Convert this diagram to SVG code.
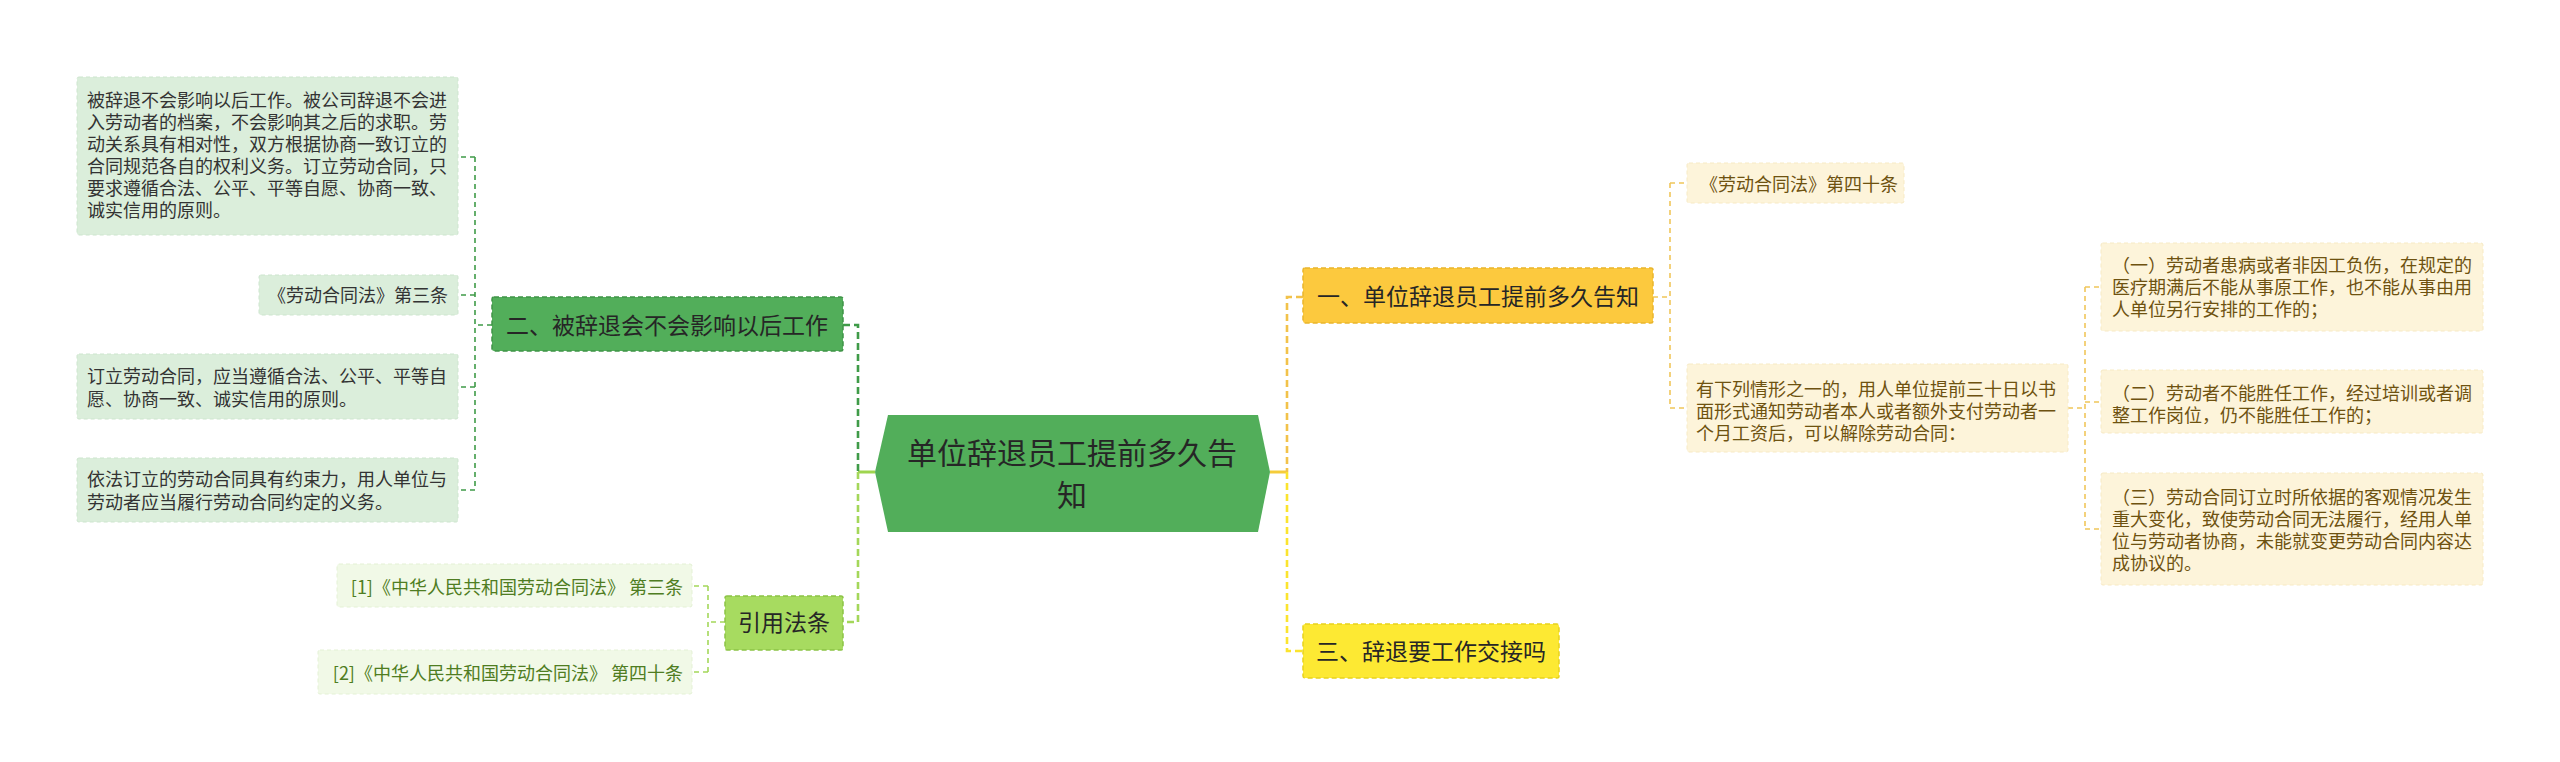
<svg xmlns="http://www.w3.org/2000/svg" width="2560" height="762" viewBox="0 0 2560 762">
<style>
text{font-family:"Noto Sans CJK SC","Noto Sans",sans-serif;}
.t18{font-size:18px;}
.t23{font-size:23px;fill:#262626;}
.lg{fill:#333333;}
.cg{fill:#4f7d22;}
.yb{fill:#6e5210;}
.leafG{fill:#dbeedb;stroke:#cde5ce;stroke-width:1;stroke-dasharray:4,3;}
.leafC{fill:#f1f9e7;stroke:#e4f1d5;stroke-width:1;stroke-dasharray:4,3;}
.leafY{fill:#fdf4da;stroke:#f7eac4;stroke-width:1;stroke-dasharray:4,3;}
.c{fill:none;stroke-width:1.6;stroke-dasharray:5,4;}
.cm{fill:none;stroke-width:2.6;stroke-dasharray:7,4;}
</style>
<rect width="2560" height="762" fill="#ffffff"/>
<g id="connectors">
  <line x1="858" y1="472" x2="875" y2="472" stroke="#9fd54f" stroke-width="3"/>
  <path class="cm" stroke="#3f9b48" d="M843,325 H858 V472"/>
  <path class="cm" stroke="#a4d75a" d="M858,472 V622 H843"/>
  <path class="c" stroke="#3f9b48" d="M492,325 H475 M475,157 V490 M475,157 H458 M475,295 H458 M475,387 H458 M475,490 H458"/>
  <path class="c" stroke="#a4d75a" d="M725,622 H708 M708,586 V672 M708,586 H692 M708,672 H692"/>
  <line x1="1270" y1="472" x2="1287" y2="472" stroke="#f5cc3a" stroke-width="3"/>
  <path class="cm" stroke="#f2c24a" d="M1303,297 H1287 V472"/>
  <path class="cm" stroke="#fbe42e" d="M1287,472 V651 H1303"/>
  <path class="c" stroke="#f0c65a" d="M1653,297 H1670 M1670,183 V408 M1670,183 H1687 M1670,408 H1687"/>
  <path class="c" stroke="#f0c65a" d="M2068,408 H2085 M2085,287 V529 M2085,287 H2101 M2085,402 H2101 M2085,529 H2101"/>
</g>
<g id="center">
  <polygon points="888,415 1258,415 1270,472 1258,532 888,532 875,472" fill="#52ae5a"/>
  <text x="1072" y="464" font-size="30" fill="#262626" text-anchor="middle">单位辞退员工提前多久告</text>
  <text x="1072" y="506" font-size="30" fill="#262626" text-anchor="middle">知</text>
</g>
<g id="node-er">
  <rect x="492" y="297" width="351" height="54" rx="2" fill="#52ae5a" stroke="#3f9447" stroke-width="1.5" stroke-dasharray="5,3"/>
  <text class="t23" x="667" y="334" text-anchor="middle">二、被辞退会不会影响以后工作</text>
</g>
<g id="leaf-er-1">
  <rect class="leafG" x="77" y="77" width="381" height="158" rx="2"/>
  <text class="t18 lg">
    <tspan x="87" y="107">被辞退不会影响以后工作。被公司辞退不会进</tspan>
    <tspan x="87" y="129">入劳动者的档案，不会影响其之后的求职。劳</tspan>
    <tspan x="87" y="151">动关系具有相对性，双方根据协商一致订立的</tspan>
    <tspan x="87" y="173">合同规范各自的权利义务。订立劳动合同，只</tspan>
    <tspan x="87" y="195">要求遵循合法、公平、平等自愿、协商一致、</tspan>
    <tspan x="87" y="217">诚实信用的原则。</tspan>
  </text>
</g>
<g id="leaf-er-2">
  <rect class="leafG" x="259" y="275" width="199" height="40" rx="2"/>
  <text class="t18 lg" x="448" y="302" text-anchor="end">《劳动合同法》第三条</text>
</g>
<g id="leaf-er-3">
  <rect class="leafG" x="77" y="354" width="381" height="65" rx="2"/>
  <text class="t18 lg">
    <tspan x="87" y="383">订立劳动合同，应当遵循合法、公平、平等自</tspan>
    <tspan x="87" y="406">愿、协商一致、诚实信用的原则。</tspan>
  </text>
</g>
<g id="leaf-er-4">
  <rect class="leafG" x="77" y="458" width="381" height="64" rx="2"/>
  <text class="t18 lg">
    <tspan x="87" y="486">依法订立的劳动合同具有约束力，用人单位与</tspan>
    <tspan x="87" y="509">劳动者应当履行劳动合同约定的义务。</tspan>
  </text>
</g>
<g id="node-cite">
  <rect x="725" y="596" width="118" height="54" rx="2" fill="#a7db60" stroke="#8cc445" stroke-width="1.5" stroke-dasharray="5,3"/>
  <text class="t23" x="784" y="631" text-anchor="middle">引用法条</text>
</g>
<g id="leaf-cite-1">
  <rect class="leafC" x="337" y="564" width="355" height="43" rx="2"/>
  <text class="t18 cg" x="683" y="594" font-size="17.5" text-anchor="end">[1]《中华人民共和国劳动合同法》 第三条</text>
</g>
<g id="leaf-cite-2">
  <rect class="leafC" x="318" y="650" width="374" height="44" rx="2"/>
  <text class="t18 cg" x="683" y="680" font-size="17.5" text-anchor="end">[2]《中华人民共和国劳动合同法》 第四十条</text>
</g>
<g id="node-yi">
  <rect x="1303" y="268" width="350" height="55" rx="2" fill="#fcc93e" stroke="#e9b52c" stroke-width="1.5" stroke-dasharray="5,3"/>
  <text class="t23" x="1478" y="305" text-anchor="middle">一、单位辞退员工提前多久告知</text>
</g>
<g id="leaf-yi-1">
  <rect class="leafY" x="1687" y="163" width="217" height="40" rx="2"/>
  <text class="t18 yb" x="1700" y="191">《劳动合同法》第四十条</text>
</g>
<g id="leaf-yi-2">
  <rect class="leafY" x="1687" y="364" width="381" height="88" rx="2"/>
  <text class="t18 yb">
    <tspan x="1696" y="396">有下列情形之一的，用人单位提前三十日以书</tspan>
    <tspan x="1696" y="418">面形式通知劳动者本人或者额外支付劳动者一</tspan>
    <tspan x="1696" y="440">个月工资后，可以解除劳动合同：</tspan>
  </text>
</g>
<g id="leaf-case-1">
  <rect class="leafY" x="2101" y="243" width="382" height="88" rx="2"/>
  <text class="t18 yb">
    <tspan x="2112" y="272">（一）劳动者患病或者非因工负伤，在规定的</tspan>
    <tspan x="2112" y="294">医疗期满后不能从事原工作，也不能从事由用</tspan>
    <tspan x="2112" y="316">人单位另行安排的工作的；</tspan>
  </text>
</g>
<g id="leaf-case-2">
  <rect class="leafY" x="2101" y="370" width="382" height="63" rx="2"/>
  <text class="t18 yb">
    <tspan x="2112" y="400">（二）劳动者不能胜任工作，经过培训或者调</tspan>
    <tspan x="2112" y="422">整工作岗位，仍不能胜任工作的；</tspan>
  </text>
</g>
<g id="leaf-case-3">
  <rect class="leafY" x="2101" y="473" width="382" height="112" rx="2"/>
  <text class="t18 yb">
    <tspan x="2112" y="504">（三）劳动合同订立时所依据的客观情况发生</tspan>
    <tspan x="2112" y="526">重大变化，致使劳动合同无法履行，经用人单</tspan>
    <tspan x="2112" y="548">位与劳动者协商，未能就变更劳动合同内容达</tspan>
    <tspan x="2112" y="570">成协议的。</tspan>
  </text>
</g>
<g id="node-san">
  <rect x="1303" y="624" width="256" height="54" rx="2" fill="#fde933" stroke="#e8d21e" stroke-width="1.5" stroke-dasharray="5,3"/>
  <text class="t23" x="1431" y="660" text-anchor="middle">三、辞退要工作交接吗</text>
</g>
</svg>
